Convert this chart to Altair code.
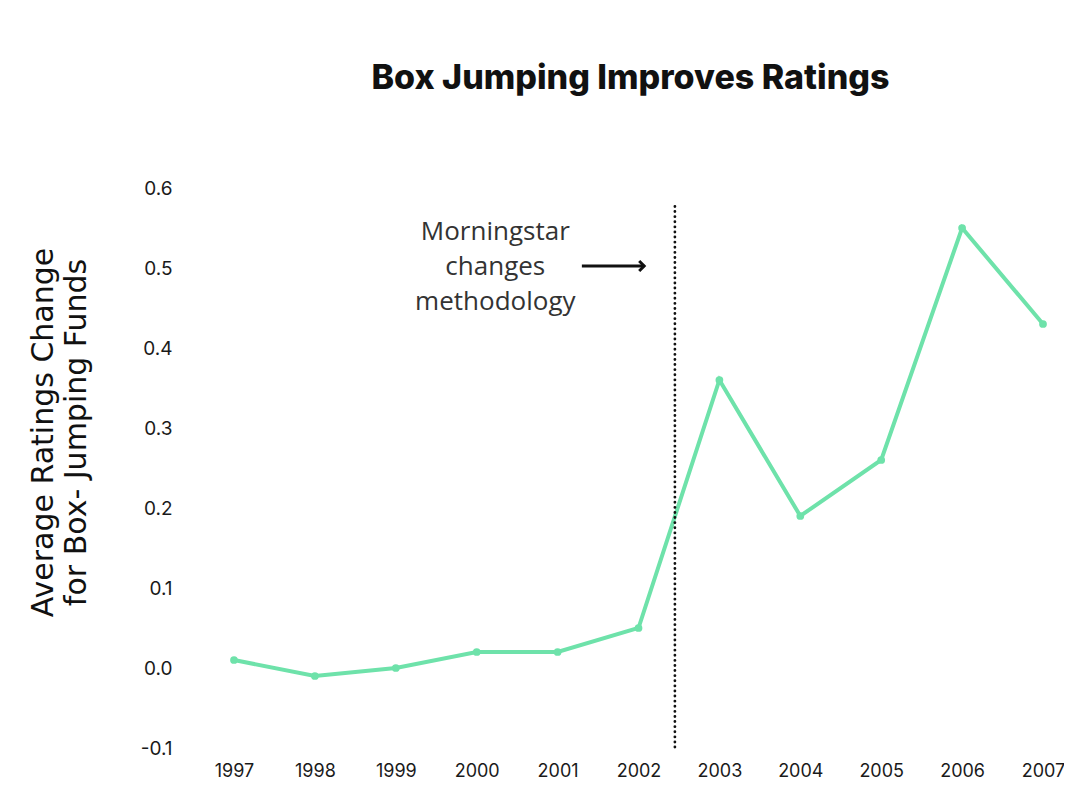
import altair as alt
import pandas as pd

years = [1997, 1998, 1999, 2000, 2001, 2002, 2003, 2004, 2005, 2006, 2007]
values = [0.01, -0.01, 0.0, 0.02, 0.02, 0.05, 0.36, 0.19, 0.26, 0.55, 0.43]
y_ticks = [-0.1, 0.0, 0.1, 0.2, 0.3, 0.4, 0.5, 0.6]

event_year = [2002.45]
event_top = [0.577]
note_lines = ["Morningstar", "changes", "methodology"]
note_x = [2000.23]
note_y = [0.545]
arrow_x = [2001.3]
arrow_x2 = [2002.07]
arrow_y = [0.5025]

GREEN = "#6EE2AA"

df = pd.DataFrame({"year": years, "value": values})

x_scale = alt.Scale(domain=[1997, 2007], nice=False, zero=False)
y_scale = alt.Scale(domain=[-0.1, 0.6], nice=False, zero=False)

x_enc = alt.X("year:Q", scale=x_scale,
              axis=alt.Axis(values=years, format="d", title=None, grid=False, domain=False,
                            ticks=False, labelPadding=14, labelFontSize=18,
                            labelFont="Inter", labelColor="#1a1a1a", labelFlush=False))
y_enc = alt.Y("value:Q", scale=y_scale,
              axis=alt.Axis(values=y_ticks, grid=False, domain=False, ticks=False,
                            labelExpr="replace(format(datum.value, '.1f'), '\u2212', '-')",
                            labelPadding=62, labelFontSize=19, labelFont="Inter",
                            labelColor="#1a1a1a",
                            title=["Average Ratings Change", "for Box- Jumping Funds"],
                            titleFont="DejaVu Sans", titleFontSize=30, titleFontWeight="normal",
                            titleColor="#111", titleLineHeight=33, titleAngle=-90,
                            titleX=-191, titleY=244, titleAlign="center",
                            titleBaseline="middle"))

line = alt.Chart(df).mark_line(color=GREEN, strokeWidth=4).encode(x=x_enc, y=y_enc)
pts = alt.Chart(df).mark_circle(color=GREEN, size=60, opacity=1).encode(x="year:Q", y="value:Q")

rule_df = pd.DataFrame({"x": event_year, "top": event_top, "bottom": [-0.1]})
rule = alt.Chart(rule_df).mark_rule(color="#111", strokeWidth=2.8, strokeDash=[0.1, 5],
                                    strokeCap="round").encode(
    x="x:Q", y="top:Q", y2="bottom:Q")

note_df = pd.DataFrame({"x": note_x, "y": note_y, "t": ["\n".join(note_lines)]})
note = alt.Chart(note_df).mark_text(font="Open Sans", fontSize=26, color="#333",
                                    lineBreak="\n", lineHeight=35, align="center",
                                    baseline="middle").encode(x="x:Q", y="y:Q", text="t:N")

arr_df = pd.DataFrame({"x": arrow_x, "x2": arrow_x2, "y": arrow_y})
arrow = alt.Chart(arr_df).mark_rule(color="#111", strokeWidth=3).encode(
    x="x:Q", x2="x2:Q", y="y:Q")
head = alt.Chart(arr_df).mark_point(shape="M-1,-1L0,0L-1,1", filled=False, color="#111",
                                    strokeWidth=3, size=100, opacity=1).encode(
    x="x2:Q", y="y:Q")

chart = alt.layer(line, rule, note, arrow, head, pts).properties(
    width=809, height=560,
    background="white",
    autosize=alt.AutoSizeParams(type="none"),
    padding={"left": 226, "top": 180, "right": 21, "bottom": 37},
    title=alt.TitleParams("Box Jumping Improves Ratings", font="Inter", fontSize=34,
                          fontWeight=800, color="#111", offset=83, anchor="middle", dx=-8),
).configure_view(strokeWidth=0, stroke="transparent")

chart.save("out.html", embed_options={"renderer": "svg", "actions": False})
